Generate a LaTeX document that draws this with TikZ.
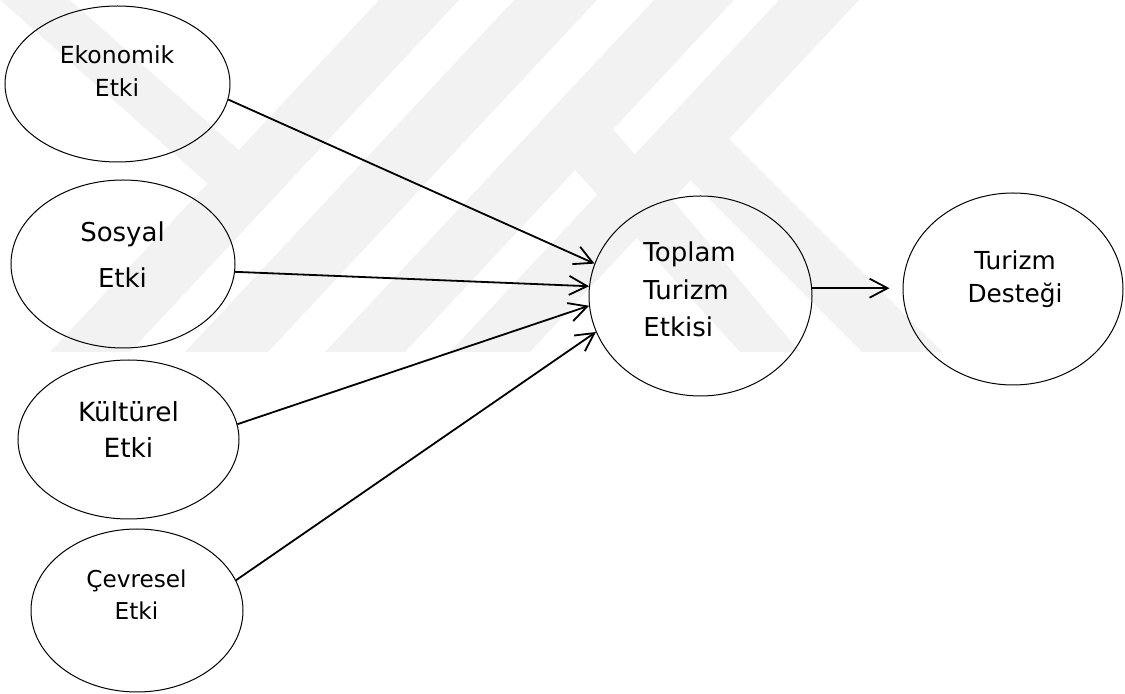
\documentclass[tikz,border=0pt]{standalone}
\usepackage{fontspec}
\setmainfont{DejaVu Sans}
\usetikzlibrary{arrows.meta,shapes.geometric}

\begin{document}
\begin{tikzpicture}[x=0.5pt,y=-0.5pt,
  blob/.style={draw,ellipse,inner sep=0pt,line width=0.5pt},
  lbl/.style={inner sep=0pt,align=center,anchor=base},
  arr/.style={line width=0.9pt,-{Straight Barb[length=9pt,width=9.5pt]}},
  wmark/.style={fill=black!5}]
  \useasboundingbox (0,0) rectangle (1125,694);
  \begin{scope}
    \clip (0,0) rectangle (1125,352);
    \fill[wmark] (50,352) -- (130,352) -- (459,0) -- (379,0) -- cycle;
    \fill[wmark] (185,352) -- (268,352) -- (597,0) -- (514,0) -- cycle;
    \fill[wmark] (325,352) -- (405,352) -- (734,0) -- (654,0) -- cycle;
    \fill[wmark] (450,352) -- (530,352) -- (859,0) -- (779,0) -- cycle;
    \fill[wmark] (729,139) -- (942,352) -- (862,352) -- (690,180) -- cycle;
    \fill[wmark] (613,129) -- (800,352) -- (740,352) -- (575,170) -- cycle;
    \fill[wmark] (0,0) -- (70,0) -- (250,160) -- (215,190) -- cycle;
  \end{scope}
  \node[blob,minimum width=112.5pt,minimum height=78pt] (eko) at (117.5,84) {};
  \node[blob,minimum width=112pt,minimum height=84pt] (sos) at (123,264) {};
  \node[blob,minimum width=110.5pt,minimum height=79.5pt] (kul) at (128.5,439.5) {};
  \node[blob,minimum width=106pt,minimum height=81.5pt] (cev) at (137,610.5) {};
  \node[blob,minimum width=111.5pt,minimum height=100pt] (top) at (700.5,296) {};
  \node[blob,minimum width=110pt,minimum height=96pt] (des) at (1013,289) {};
  \node[lbl,font=\fontsize{11.75}{16.5}\selectfont] (eko-t) at (117,97) {Ekonomik\\Etki};
  \node[lbl,font=\fontsize{13}{23}\selectfont] (sos-t) at (122.5,288) {Sosyal\\Etki};
  \node[lbl,font=\fontsize{13.2}{18}\selectfont] (kul-t) at (128.5,458) {Kültürel\\Etki};
  \node[lbl,font=\fontsize{11.6}{16}\selectfont] (cev-t) at (136.5,620) {Çevresel\\Etki};
  \node[lbl,align=left,anchor=base west,font=\fontsize{13}{18.75}\selectfont] (top-t) at (643,337) {Toplam\\Turizm\\Etkisi};
  \node[lbl,font=\fontsize{12.4}{16.5}\selectfont] (des-t) at (1015,303) {Turizm\\Desteği};
  \draw[arr] (eko.-8.3) -- (top.163.7);
  \draw[arr] (sos.-4.6) -- (top.175.4);
  \draw[arr] (kul.8.7) -- (top.185.2);
  \draw[arr] (cev.17.2) -- (top.199.1);
  \draw[arr,shorten >=6.5pt] (top.4.6) -- (top.4.6 -| des.west);
\end{tikzpicture}
\end{document}
